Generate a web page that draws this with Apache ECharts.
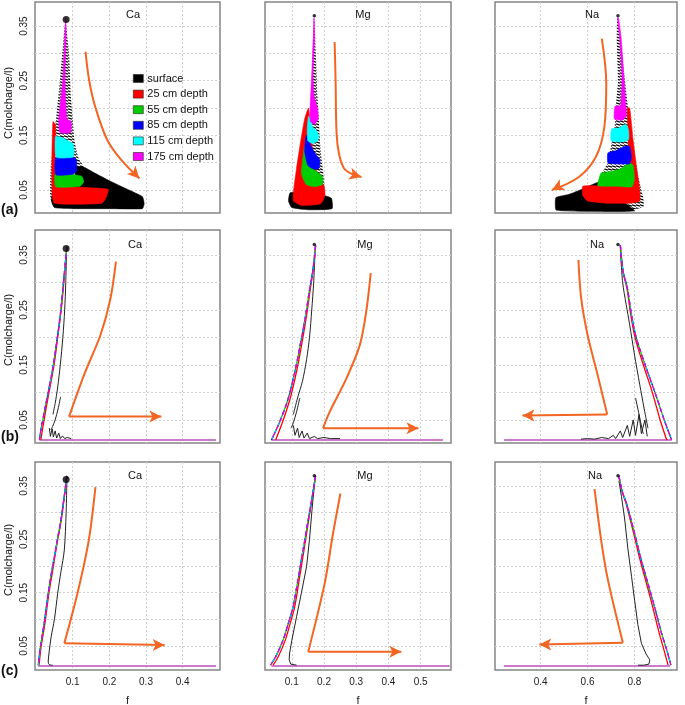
<!DOCTYPE html>
<html><head><meta charset="utf-8">
<script src="https://cdn.jsdelivr.net/npm/echarts@6/dist/echarts.min.js"></script>
<style>html,body{margin:0;padding:0;background:#fff}#c{width:685px;height:705px}</style>
</head><body><div id="c"></div>
<script>
// ================= DATA =================
const yTicks = [0.05, 0.10, 0.15, 0.20, 0.25, 0.30, 0.35];
const yLabels = [0.05, 0.15, 0.25, 0.35];
const xTicksCa = [0.1, 0.2, 0.3, 0.4];
const xTicksMg = [0.1, 0.2, 0.3, 0.4, 0.5];
const xTicksNa = [0.4, 0.6, 0.8];
const ions = ['Ca', 'Mg', 'Na'];
const rowTags = ['(a)', '(b)', '(c)'];
const depthNames = ['surface', '25 cm depth', '55 cm depth', '85 cm depth', '115 cm depth', '175 cm depth'];
const startCa = [0.082, 0.362], startMg = [0.170, 0.369], startNa = [0.730, 0.369];

// ---- row (a): regions covered by the trajectories of each depth ----
const aCaHatch = [[0.081,0.357],[0.09,0.3],[0.095,0.22],[0.1,0.18],[0.105,0.14],[0.115,0.11],[0.13,0.092],[0.13,0.06],[0.042,0.03],[0.04,0.09],[0.05,0.15],[0.065,0.25],[0.078,0.35]];
const aCaSurface = [[0.11,0.092],[0.13,0.092],[0.16,0.081],[0.2,0.067],[0.25,0.051],[0.29,0.038],[0.295,0.025],[0.29,0.016],[0.2,0.016],[0.1,0.016],[0.05,0.018],[0.042,0.03],[0.05,0.056],[0.1,0.056]];
const aCa25 = [[0.046,0.175],[0.053,0.17],[0.054,0.06],[0.1,0.056],[0.15,0.054],[0.197,0.051],[0.19,0.035],[0.18,0.026],[0.1,0.024],[0.05,0.026],[0.044,0.04],[0.043,0.1]];
const aCa55 = [[0.052,0.079],[0.09,0.08],[0.106,0.078],[0.125,0.075],[0.13,0.065],[0.12,0.057],[0.054,0.056]];
const aCa85 = [[0.054,0.11],[0.1,0.11],[0.11,0.106],[0.11,0.085],[0.1,0.079],[0.054,0.078]];
const aCa115 = [[0.053,0.148],[0.07,0.146],[0.1,0.135],[0.104,0.12],[0.1,0.11],[0.055,0.11]];
const aCa175 = [[0.081,0.365],[0.082,0.34],[0.079,0.25],[0.084,0.18],[0.095,0.176],[0.094,0.155],[0.065,0.155],[0.062,0.178],[0.073,0.25],[0.079,0.34]];

const aMgHatch = [[0.169,0.369],[0.175,0.3],[0.18,0.22],[0.19,0.12],[0.2,0.07],[0.2,0.05],[0.17,0.06],[0.16,0.2],[0.165,0.3]];
const aMgSurface = [[0.095,0.045],[0.13,0.045],[0.2,0.04],[0.223,0.035],[0.225,0.016],[0.15,0.014],[0.1,0.018],[0.09,0.03]];
const aMg25 = [[0.152,0.2],[0.16,0.15],[0.17,0.1],[0.185,0.07],[0.2,0.058],[0.203,0.04],[0.19,0.025],[0.13,0.022],[0.105,0.03],[0.106,0.05],[0.115,0.09],[0.128,0.14],[0.14,0.18]];
const aMg55 = [[0.14,0.13],[0.155,0.1],[0.175,0.085],[0.195,0.075],[0.195,0.06],[0.17,0.056],[0.145,0.06],[0.13,0.08],[0.135,0.11]];
const aMg85 = [[0.145,0.15],[0.16,0.13],[0.175,0.115],[0.187,0.105],[0.185,0.09],[0.17,0.088],[0.15,0.095],[0.14,0.12]];
const aMg115 = [[0.152,0.185],[0.165,0.165],[0.175,0.16],[0.184,0.15],[0.18,0.14],[0.165,0.135],[0.15,0.14],[0.148,0.16]];
const aMg175 = [[0.169,0.365],[0.171,0.33],[0.166,0.26],[0.17,0.22],[0.18,0.2],[0.182,0.18],[0.17,0.17],[0.158,0.175],[0.157,0.2],[0.162,0.26],[0.167,0.33]];

const aNaHatch = [[0.727,0.369],[0.744,0.318],[0.758,0.257],[0.773,0.203],[0.794,0.136],[0.816,0.075],[0.837,0.038],[0.84,0.02],[0.8,0.015],[0.7,0.03],[0.644,0.056],[0.66,0.08],[0.687,0.1],[0.7,0.13],[0.715,0.16],[0.72,0.2],[0.73,0.25],[0.725,0.32]];
const aNaSurface = [[0.465,0.036],[0.52,0.042],[0.58,0.052],[0.644,0.064],[0.68,0.06],[0.75,0.03],[0.8,0.012],[0.6,0.011],[0.5,0.012],[0.465,0.014]];
const aNa25 = [[0.58,0.057],[0.65,0.058],[0.72,0.06],[0.77,0.07],[0.775,0.12],[0.77,0.2],[0.78,0.2],[0.795,0.14],[0.81,0.09],[0.82,0.06],[0.823,0.03],[0.78,0.026],[0.68,0.026],[0.6,0.03],[0.58,0.04]];
const aNa55 = [[0.644,0.058],[0.65,0.072],[0.658,0.081],[0.7,0.084],[0.737,0.088],[0.78,0.1],[0.795,0.095],[0.8,0.07],[0.79,0.056],[0.72,0.057]];
const aNa85 = [[0.687,0.1],[0.687,0.118],[0.72,0.122],[0.76,0.13],[0.78,0.13],[0.787,0.11],[0.78,0.098],[0.72,0.098]];
const aNa115 = [[0.701,0.14],[0.703,0.162],[0.73,0.163],[0.765,0.17],[0.775,0.16],[0.775,0.142],[0.74,0.138]];
const aNa175 = [[0.715,0.18],[0.717,0.203],[0.742,0.205],[0.747,0.26],[0.737,0.33],[0.728,0.365],[0.732,0.365],[0.743,0.33],[0.755,0.26],[0.764,0.205],[0.765,0.185],[0.75,0.178]];

// ---- row (b) ----
const bCaDepth = [[0.084,0.365],[0.076,0.31],[0.068,0.253],[0.058,0.2],[0.047,0.15],[0.036,0.11],[0.024,0.07],[0.014,0.035],[0.009,0.0136]];
const bCa25 = [[0.084,0.365],[0.077,0.31],[0.069,0.253],[0.059,0.2],[0.049,0.15],[0.038,0.11],[0.027,0.07],[0.018,0.035],[0.013,0.0136]];
const bCaSurf1 = [[0.083,0.355],[0.081,0.3],[0.078,0.25],[0.073,0.2],[0.066,0.15],[0.059,0.11],[0.052,0.08],[0.046,0.06]];
const bCaSurf2 = [[0.067,0.092],[0.06,0.07],[0.052,0.05],[0.045,0.038],[0.04,0.032]];
const bCaWiggle = [[0.036,0.035],[0.039,0.02],[0.044,0.034],[0.047,0.019],[0.052,0.03],[0.056,0.017],[0.062,0.026],[0.066,0.016],[0.072,0.021],[0.078,0.016],[0.085,0.018],[0.096,0.016]];
const bCaBase = [[0.009,0.0136],[0.491,0.0136]];

const bMgDepth = [[0.174,0.367],[0.165,0.32],[0.156,0.29],[0.143,0.24],[0.13,0.198],[0.112,0.144],[0.089,0.089],[0.063,0.047],[0.037,0.0136]];
const bMg25 = [[0.174,0.367],[0.166,0.32],[0.158,0.29],[0.146,0.24],[0.134,0.198],[0.117,0.144],[0.095,0.089],[0.072,0.047],[0.05,0.0136]];
const bMgSurf1 = [[0.172,0.35],[0.168,0.3],[0.162,0.25],[0.155,0.2],[0.146,0.16],[0.133,0.12],[0.118,0.09],[0.105,0.06]];
const bMgSurf2 = [[0.125,0.09],[0.115,0.065],[0.105,0.045],[0.098,0.035]];
const bMgWiggle = [[0.105,0.04],[0.11,0.022],[0.118,0.035],[0.123,0.018],[0.132,0.03],[0.138,0.017],[0.148,0.026],[0.155,0.016],[0.17,0.02],[0.18,0.016],[0.2,0.018],[0.22,0.016],[0.25,0.016]];
const bMgBase = [[0.037,0.0136],[0.569,0.0136]];

const bNaDepth = [[0.74,0.368],[0.752,0.32],[0.77,0.29],[0.788,0.24],[0.809,0.198],[0.851,0.144],[0.887,0.101],[0.93,0.047],[0.959,0.0136]];
const bNa25 = [[0.74,0.368],[0.751,0.32],[0.768,0.29],[0.785,0.24],[0.804,0.198],[0.843,0.144],[0.876,0.101],[0.912,0.047],[0.938,0.0136]];
const bNaSurf1 = [[0.74,0.36],[0.75,0.3],[0.765,0.26],[0.78,0.223],[0.8,0.17],[0.823,0.114],[0.842,0.07],[0.858,0.035]];
const bNaSurf2 = [[0.805,0.09],[0.82,0.06],[0.832,0.035],[0.838,0.025]];
const bNaWiggle = [[0.572,0.015],[0.6,0.016],[0.63,0.015],[0.66,0.018],[0.69,0.016],[0.71,0.022],[0.72,0.016],[0.74,0.03],[0.75,0.018],[0.77,0.04],[0.78,0.02],[0.795,0.05],[0.805,0.022],[0.82,0.06],[0.83,0.025],[0.845,0.05],[0.855,0.02]];
const bNaBase = [[0.243,0.0136],[0.959,0.0136]];

// ---- row (c) ----
const cCaDepth = [[0.084,0.369],[0.069,0.292],[0.057,0.245],[0.045,0.199],[0.033,0.149],[0.022,0.092],[0.012,0.05],[0.006,0.014]];
const cCa25 = [[0.084,0.369],[0.07,0.292],[0.058,0.245],[0.047,0.199],[0.035,0.149],[0.024,0.092],[0.014,0.05],[0.008,0.014]];
const cCaSurf = [[0.084,0.36],[0.082,0.3],[0.077,0.23],[0.068,0.19],[0.059,0.149],[0.05,0.1],[0.041,0.067],[0.035,0.035],[0.033,0.02],[0.036,0.015],[0.045,0.014]];
const cCaBase = [[0.006,0.0123],[0.491,0.0123]];

const cMgDepth = [[0.174,0.369],[0.155,0.3],[0.135,0.23],[0.118,0.17],[0.104,0.123],[0.088,0.09],[0.073,0.061],[0.05,0.03],[0.034,0.014]];
const cMg25 = [[0.174,0.369],[0.156,0.3],[0.138,0.23],[0.122,0.17],[0.109,0.123],[0.094,0.09],[0.08,0.061],[0.058,0.03],[0.042,0.014]];
const cMgSurf = [[0.172,0.36],[0.165,0.32],[0.161,0.292],[0.155,0.25],[0.146,0.199],[0.13,0.15],[0.115,0.105],[0.1,0.06],[0.093,0.035],[0.092,0.024],[0.097,0.016],[0.115,0.014]];
const cMgBase = [[0.037,0.0123],[0.59,0.0123]];

const cNaDepth = [[0.734,0.369],[0.748,0.34],[0.766,0.318],[0.801,0.261],[0.83,0.21],[0.858,0.167],[0.888,0.12],[0.916,0.074],[0.94,0.04],[0.956,0.014]];
const cNa25 = [[0.734,0.369],[0.747,0.34],[0.764,0.318],[0.797,0.261],[0.825,0.21],[0.852,0.167],[0.88,0.12],[0.906,0.074],[0.928,0.04],[0.944,0.014]];
const cNaSurf = [[0.734,0.36],[0.745,0.33],[0.758,0.29],[0.773,0.23],[0.788,0.18],[0.801,0.136],[0.815,0.09],[0.83,0.055],[0.85,0.035],[0.866,0.024],[0.862,0.016],[0.84,0.014],[0.816,0.014]];
const cNaBase = [[0.243,0.0123],[0.952,0.0123]];

// ---- orange trend arrows ----
const arrAca = [[0.135,0.303],[0.145,0.25],[0.162,0.201],[0.194,0.142],[0.23,0.107],[0.282,0.071]];
const arrAmg = [[0.233,0.321],[0.236,0.25],[0.239,0.154],[0.247,0.115],[0.262,0.09],[0.285,0.08],[0.316,0.074]];
const arrAna = [[0.661,0.327],[0.68,0.245],[0.672,0.166],[0.636,0.111],[0.563,0.074],[0.448,0.05]];
const arrBcaCurve = [[0.218,0.338],[0.203,0.271],[0.176,0.205],[0.131,0.132],[0.09,0.056]];
const arrBcaHor = [[0.09,0.056],[0.342,0.056]];
const arrBmgCurve = [[0.345,0.317],[0.331,0.247],[0.311,0.186],[0.27,0.126],[0.218,0.065],[0.197,0.035]];
const arrBmgHor = [[0.197,0.035],[0.493,0.035]];
const arrBnaCurve = [[0.561,0.341],[0.573,0.271],[0.6,0.205],[0.643,0.132],[0.684,0.06]];
const arrBnaHor = [[0.684,0.06],[0.322,0.058]];
const arrCcaCurve = [[0.162,0.348],[0.144,0.249],[0.113,0.149],[0.077,0.055]];
const arrCcaHor = [[0.077,0.055],[0.351,0.052]];
const arrCmgCurve = [[0.251,0.336],[0.228,0.261],[0.202,0.167],[0.151,0.039]];
const arrCmgHor = [[0.151,0.039],[0.44,0.039]];
const arrCnaCurve = [[0.63,0.344],[0.658,0.249],[0.687,0.174],[0.751,0.056]];
const arrCnaHor = [[0.751,0.056],[0.394,0.053]];

// ================= LAYOUT / STYLE =================
const FONT = "'Liberation Sans', Arial, sans-serif";
const ORANGE = '#F26522';
const depthColors = ['#000000', '#FF0000', '#00CD00', '#0000FF', '#00FFFF', '#FF00FF'];
const cols = [[35, 185], [265, 186], [495, 182]];
const rows = [[2, 211], [230, 213], [462, 208]];
const xRange = [[-0.003, 0.502], [0.017, 0.594], [0.205, 0.982]];
const yRange = [[0.008, 0.394], [0.008, 0.3955], [0.005, 0.395]];
const xTicks = [xTicksCa, xTicksMg, xTicksNa];

function hatchCanvas() {
  const c = document.createElement('canvas');
  c.width = 4; c.height = 3;
  const g = c.getContext('2d');
  g.fillStyle = '#fff'; g.fillRect(0, 0, 4, 3);
  g.strokeStyle = '#000'; g.lineWidth = 1.2;
  g.beginPath(); g.moveTo(0, 0.8); g.lineTo(4, 2.2); g.stroke();
  return c;
}
const hatchFill = { image: hatchCanvas(), repeat: 'repeat' };

const grids = [], xAxes = [], yAxes = [], series = [];
for (let r = 0; r < 3; r++) {
  for (let c = 0; c < 3; c++) {
    const gi = r * 3 + c;
    grids.push({ left: cols[c][0], width: cols[c][1], top: rows[r][0], height: rows[r][1],
      show: true, borderColor: '#858585', borderWidth: 1.5, backgroundColor: '#fff',
      outerBoundsMode: 'none', containLabel: false });
    xAxes.push({ type: 'value', gridIndex: gi, min: xRange[c][0], max: xRange[c][1],
      axisLine: { show: false }, axisTick: { show: false, customValues: xTicks[c] },
      splitLine: { show: true, lineStyle: { type: [2, 2], color: '#cfcfcf', width: 1 } },
      axisLabel: { show: r === 2, customValues: xTicks[c], color: '#222', fontSize: 10, fontFamily: FONT, margin: 7,
        formatter: v => String(v) },
      name: r === 2 ? 'f' : '', nameLocation: 'middle', nameGap: 25,
      nameTextStyle: { color: '#222', fontSize: 11, fontFamily: FONT } });
    yAxes.push({ type: 'value', gridIndex: gi, min: yRange[r][0], max: yRange[r][1],
      axisLine: { show: false }, axisTick: { show: false, customValues: yTicks },
      splitLine: { show: true, lineStyle: { type: [2, 2], color: '#cfcfcf', width: 1 } },
      axisLabel: { show: c === 0, customValues: yLabels, rotate: 90, color: '#222', fontSize: 10, fontFamily: FONT, margin: 6,
        formatter: v => String(v) } });
  }
}

function poly(name, pts, gi, fill, legendColor, z) {
  series.push({ type: 'custom', name: name, xAxisIndex: gi, yAxisIndex: gi, clip: true, silent: true, z: z,
    itemStyle: { color: legendColor }, data: pts,
    renderItem: function (params, api) {
      if (params.dataIndex !== 0) return null;
      const p = pts.map(q => api.coord(q));
      const solid = typeof fill === 'string';
      return { type: 'polygon', shape: { points: p, smooth: 0.15 },
        style: { fill: fill, stroke: solid ? fill : null, lineWidth: solid ? 0.6 : 0 } };
    } });
}
function line(name, pts, gi, color, width, dash, z, smooth) {
  series.push({ type: 'line', name: name, xAxisIndex: gi, yAxisIndex: gi, data: pts, showSymbol: false, symbol: 'none',
    smooth: smooth, lineStyle: { color: color, width: width, type: dash || 'solid' }, itemStyle: { color: color },
    z: z, silent: true });
}
function arrow(pts, gi, rot, smooth) {
  const d = pts.map((p, i) => i === pts.length - 1
    ? { value: p, symbol: 'arrow', symbolSize: [9, 12], symbolRotate: rot }
    : { value: p, symbol: 'none' });
  series.push({ type: 'line', xAxisIndex: gi, yAxisIndex: gi, data: d, showSymbol: true, symbol: 'none',
    smooth: smooth, lineStyle: { color: ORANGE, width: 2 }, itemStyle: { color: ORANGE }, z: 8, silent: true });
}
function curve(pts, gi, smooth) {
  series.push({ type: 'line', xAxisIndex: gi, yAxisIndex: gi, data: pts, showSymbol: false, symbol: 'none',
    smooth: smooth, lineStyle: { color: ORANGE, width: 2 }, z: 8, silent: true });
}
function dot(pt, gi, size) {
  series.push({ type: 'scatter', xAxisIndex: gi, yAxisIndex: gi, data: [pt], symbolSize: size,
    itemStyle: { color: '#000' }, z: 9, silent: true });
}

// row (a)
const aSets = [
  [aCaHatch, aCaSurface, aCa25, aCa55, aCa85, aCa115, aCa175],
  [aMgHatch, aMgSurface, aMg25, aMg55, aMg85, aMg115, aMg175],
  [aNaHatch, aNaSurface, aNa25, aNa55, aNa85, aNa115, aNa175]
];
for (let c = 0; c < 3; c++) {
  const s = aSets[c];
  poly('surface', s[0], c, hatchFill, '#000', 2);
  for (let k = 0; k < 6; k++) poly(depthNames[k], s[k + 1], c, depthColors[k], depthColors[k], 3 + k);
}
arrow(arrAca, 0, -136, 0.35);
arrow(arrAmg, 1, -106, 0.35);
arrow(arrAna, 2, 117, 0.35);
dot(startCa, 0, 7); dot(startMg, 1, 3.5); dot(startNa, 2, 3.5);

// rows (b) and (c)
function trajectoryPanel(gi, depth, d25, base, blacks) {
  line('base', base, gi, '#CC7ACC', 2, 'solid', 2, false);
  blacks.forEach(b => line('surf', b, gi, '#222', 1, 'solid', 3, b.length > 11 ? false : 0.3));
  line('d25', d25, gi, '#FF0000', 1.3, 'solid', 4, 0.3);
  line('d55', depth, gi, '#00CD00', 1.2, 'solid', 5, 0.3);
  line('d85', depth, gi, '#0000FF', 1.2, [4, 3], 6, 0.3);
  line('d115', depth, gi, '#00D8D8', 1.2, [3, 4], 6, 0.3);
  line('d175', depth, gi, '#E000E0', 1.3, [5, 3], 7, 0.3);
}
trajectoryPanel(3, bCaDepth, bCa25, bCaBase, [bCaSurf1, bCaSurf2, bCaWiggle]);
trajectoryPanel(4, bMgDepth, bMg25, bMgBase, [bMgSurf1, bMgSurf2, bMgWiggle]);
trajectoryPanel(5, bNaDepth, bNa25, bNaBase, [bNaSurf1, bNaSurf2, bNaWiggle]);
trajectoryPanel(6, cCaDepth, cCa25, cCaBase, [cCaSurf]);
trajectoryPanel(7, cMgDepth, cMg25, cMgBase, [cMgSurf]);
trajectoryPanel(8, cNaDepth, cNa25, cNaBase, [cNaSurf]);
curve(arrBcaCurve, 3, 0.3); arrow(arrBcaHor, 3, -90, false);
curve(arrBmgCurve, 4, 0.3); arrow(arrBmgHor, 4, -90, false);
curve(arrBnaCurve, 5, 0.3); arrow(arrBnaHor, 5, 90, false);
curve(arrCcaCurve, 6, 0.3); arrow(arrCcaHor, 6, -90, false);
curve(arrCmgCurve, 7, 0.3); arrow(arrCmgHor, 7, -90, false);
curve(arrCnaCurve, 8, 0.3); arrow(arrCnaHor, 8, 90, false);
dot(startCa, 3, 7); dot(startMg, 4, 3.5); dot(startNa, 5, 3.5);
dot(startCa, 6, 7); dot(startMg, 7, 3.5); dot(startNa, 8, 3.5);

// ---- texts ----
function txt(text, x, y, size, opts) {
  opts = opts || {};
  return { type: 'text', x: x, y: y, rotation: opts.rot || 0, z: 100, silent: true,
    style: { text: text, fill: '#111', font: (opts.bold ? 'bold ' : '') + size + 'px ' + FONT,
      textAlign: opts.align || 'center', align: opts.align || 'center',
      textVerticalAlign: 'middle', verticalAlign: 'middle' } };
}
const titlePos = [
  [[133, 15], [363, 15], [592, 15]],
  [[135, 245], [365, 245], [597, 245]],
  [[135, 476], [365, 476], [595, 476]]
];
const graphics = [];
for (let r = 0; r < 3; r++) {
  for (let c = 0; c < 3; c++) graphics.push(txt(ions[c], titlePos[r][c][0], titlePos[r][c][1], 11));
}
graphics.push(txt(rowTags[0], 1, 210, 14, { bold: true, align: 'left' }));
graphics.push(txt(rowTags[1], 1, 437, 14, { bold: true, align: 'left' }));
graphics.push(txt(rowTags[2], 1, 671, 14, { bold: true, align: 'left' }));
graphics.push(txt('C(molcharge/l)', 9, 103, 11, { rot: Math.PI / 2 }));
graphics.push(txt('C(molcharge/l)', 9, 330, 11, { rot: Math.PI / 2 }));
graphics.push(txt('C(molcharge/l)', 9, 560, 11, { rot: Math.PI / 2 }));

const chart = echarts.init(document.getElementById('c'), null, { renderer: 'canvas' });
chart.setOption({
  animation: false,
  backgroundColor: '#fff',
  grid: grids, xAxis: xAxes, yAxis: yAxes,
  legend: { data: depthNames, left: 133, top: 73, orient: 'vertical', padding: 0,
    itemWidth: 10, itemHeight: 8, itemGap: 4.6, icon: 'rect', selectedMode: false,
    itemStyle: { borderColor: '#222', borderWidth: 0.6 },
    textStyle: { color: '#111', fontSize: 11, fontFamily: FONT, padding: [0, 0, 0, -1] } },
  series: series,
  graphic: { elements: graphics }
});
</script></body></html>
